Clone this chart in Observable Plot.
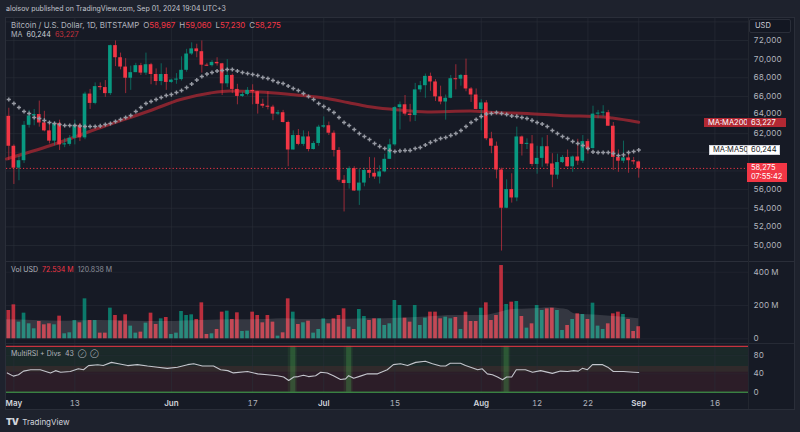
<!DOCTYPE html>
<html>
<head>
<meta charset="utf-8">
<script src="https://cdn.jsdelivr.net/npm/d3@7"></script>
<script src="https://cdn.jsdelivr.net/npm/@observablehq/plot@0.6"></script>
<style>
html,body{margin:0;padding:0;background:#1e222d;}
#root{position:relative;width:800px;height:432px;overflow:hidden;background:#1e222d;font-family:Inter,"Noto Sans",sans-serif;color:#b2b5be;}
.t{position:absolute;white-space:nowrap;line-height:10px;height:10px;}
.t span{margin-left:4px;}
.t span:first-child{margin-left:0;}
#frame{position:absolute;left:5px;top:17px;width:790px;height:393px;background:#161a25;box-sizing:border-box;border:1px solid #2a2e39;}
.sep{position:absolute;background:#2a2e39;}
.pane{position:absolute;left:0;}
.tag{position:absolute;font-size:7.5px;line-height:9px;height:9px;padding:0 0 0 4px;box-sizing:border-box;white-space:nowrap;}
</style>
</head>
<body>
<div id="root">
  <div id="frame"></div>
</div>
<script>
// ---------- data ----------
const DAY = 864e5;
const t0 = Date.UTC(2024, 3, 30); // first candle: Apr 30, 2024
const dayDate = d => new Date(t0 + d * DAY);

const opens = [63860,60650,58300,59100,62900,63900,64050,63150,62300,61200,63100,60800,60850,61500,62900,61550,66250,65250,67050,66950,66300,71450,70150,69150,67950,68550,69300,68500,69400,68350,67600,68350,67500,67750,67800,68800,70550,71100,70800,69350,69300,69650,69500,67350,68250,66750,66000,66200,66650,66500,65150,64950,64850,64100,64250,63200,60250,61800,60850,61650,60300,60950,62700,62850,62050,60200,57000,56650,58250,55850,56700,58050,57750,57350,57900,59250,60800,64800,65100,64100,63950,66700,67150,68150,67550,65950,65400,65800,67900,67850,68250,66800,66150,64600,65300,61450,60650,58100,54000,56000,55100,61650,60850,60900,58700,59350,60600,58750,57550,58900,59450,58450,59500,59050,61150,60400,64100,64200,64250,62800,59450,59050,59400,59100,58967];
const highs = [64730,60800,59600,63300,64500,64600,65500,64400,62950,63250,63450,61500,61800,63450,63100,66450,66750,67450,67450,67700,71500,71950,70650,70050,69250,69550,69550,70650,69550,68950,69500,69050,67850,68450,70250,71050,71750,71600,71950,69550,69850,70150,69550,69950,68400,67300,66450,66950,67250,66550,65700,66500,65050,64500,64500,63350,62300,62450,62300,62200,61150,62900,63800,63250,62300,60500,57500,58450,58450,58200,58300,59450,59400,58550,59800,61400,64900,65400,66100,65150,67400,67600,68400,68500,67800,67100,66150,68250,69400,68350,70000,66950,66800,65650,65550,62150,61100,58300,57050,57700,62700,61750,61450,61800,60650,61550,61800,59850,59800,59650,60250,59600,61400,61800,61400,64950,64500,65000,64500,63200,60250,61200,60000,59450,59060];
const lows = [59100,56550,56950,58800,62600,62850,62700,62200,60900,60700,60200,60500,60650,60800,61150,61350,64600,65100,66650,65900,66100,69200,68850,66300,66650,68550,68250,68250,67250,67150,67150,66650,67400,67300,67650,68600,70400,70150,68500,69200,69150,69250,66100,66950,66300,65100,65900,66050,65100,64100,64700,64550,63400,63950,63150,58450,60250,60700,60650,60050,60250,60650,62550,61800,59500,56800,53600,56050,55800,54300,56300,57200,57100,56600,57800,59250,60650,62400,63900,63250,63300,66400,65800,66550,65450,65100,63450,65750,66700,67100,66500,65350,64550,62300,61250,59850,57150,49400,53950,54550,54700,59600,60300,58450,57650,58400,58450,56200,57100,58800,58400,57850,58600,58800,59800,60350,63600,63800,62800,58050,57850,58800,57750,58650,57230];
const closes = [60650,58300,59100,62900,63900,64050,63150,62300,61200,63100,60800,60850,61500,62900,61550,66250,65250,67050,66950,66300,71450,70150,69150,67950,68550,69300,68500,69400,68350,67600,68350,67500,67750,67800,68800,70550,71100,70800,69350,69300,69650,69500,67350,68250,66750,66000,66200,66650,66500,65150,64950,64850,64100,64250,63200,60250,61800,60850,61650,60300,60950,62700,62850,62050,60200,57000,56650,58250,55850,56700,58050,57750,57350,57900,59250,60800,64800,65100,64100,63950,66700,67150,68150,67550,65950,65400,65800,67900,67850,68250,66800,66150,64600,65300,61450,60650,58100,54000,56000,55100,61650,60850,60900,58700,59350,60600,58750,57550,58900,59450,58450,59500,59050,61150,60400,64100,64200,64250,62800,59450,59050,59400,59100,58967,58275];
const volumes = [170,204,100,154,90,60,104,84,90,84,136,30,36,110,96,240,110,110,34,34,184,140,106,144,76,34,40,94,154,86,120,128,26,34,164,140,144,116,216,26,30,56,160,166,116,156,44,46,160,140,96,140,100,16,36,240,160,86,96,106,34,56,120,90,120,140,180,70,56,176,134,110,120,120,80,90,230,200,124,100,200,80,124,160,160,120,130,120,128,56,160,104,104,184,216,110,140,440,206,220,224,134,64,90,200,170,180,184,170,50,80,116,150,146,116,214,76,56,90,150,160,146,116,44,72.534];
const ma50 = [65670,65240,64810,64380,64170,63740,63630,63420,63200,63090,62990,62880,62880,62880,62830,62770,62770,62770,62830,62990,63090,63310,63520,63740,63950,64380,64810,65240,65450,65670,65880,66100,66200,66420,66630,66960,67330,67760,68140,68400,68570,68730,68780,68890,68890,68730,68570,68460,68350,68240,68030,67920,67710,67490,67390,67120,66850,66630,66310,65990,65670,65240,64920,64600,64270,63740,63200,62880,62450,62020,61700,61380,60950,60630,60410,60200,60090,60150,60200,60200,60410,60520,60790,61060,61270,61480,61590,61810,62020,62340,62770,63200,63520,63850,64110,64170,64270,64170,64060,63900,63850,63740,63630,63420,63200,63040,62770,62340,62020,61700,61480,61160,60950,60730,60410,60040,59980,59980,59980,59880,59660,59720,59980,60090,60244];

const ma200Day = [-0.45,8.2,18.1,27.9,33.8,39.7,43.6,49.5,55.5,61.4,66.7,70.6,75.7,82.4,90.9,95.4,102.1,108.6,117.1,118.8,124];
const ma200Val = [59285,60730,62665,64490,65670,66370,66580,66470,66200,65880,65350,64920,64600,64330,64430,64270,64170,63950,63790,63680,63227];

const volMaDay = [-0.45,4.9,11.5,18,24.6,31.2,37.7,44.3,50.9,54.1,57.4,64,70.6,77.1,83.7,87,93.5,96.8,98.8,103.3,106.6,108.6,110,111.3,116.5,123,124];
const volMaVal = [114,110,106,110,106,104,110,114,116,120,116,116,120,124,134,140,140,160,174,180,186,180,174,150,140,124,120.8];

const rsiDay = [-0.3,0.9,1.9,2.9,4.3,6.2,8.2,9.2,10.2,12.1,13.7,14.7,15.7,17.5,18.6,20.2,21.6,23.4,25.3,27.3,29.3,31.2,33.2,35.2,36.4,38.1,40.3,41.7,43.1,44.2,47,49,50.9,52.9,54.1,55.1,56.1,57,58,59,60.4,61.4,62.7,63.9,65.3,66.3,66.9,67.9,69.2,70.6,72.6,74.5,75.7,77.1,78.5,80.1,82,83.4,85,86,86.9,88.9,89.9,90.9,92.3,93.2,94.2,95.2,96.2,97.2,98,99,99.9,101.7,103.1,104.7,107,108.6,110,111.2,112.1,112.9,113.9,114.9,116.9,117.9,119,121,123,124];
const rsiVal = [42,35,38,46,49,49,42,47,43.6,45,51,49,58,59.7,58,65,62,58,60,57,54.5,52,54.5,60,62,57,57,49,47,42,45,40,38,36,33,25.5,33,34,37,34,36,43.6,42,36,27.7,29,36,30.5,35,40,40,49,60,62,58,65,67.5,62,57,57,63,63,58,54.5,49,51,40,38,33,27,33,33,49,49,43.6,47,41,46,45,47,46,52,49,60,60,54.5,45,45,43.6,43];
const divDays = [56, 67, 98];

// 58,000 and 60,000 are hidden behind the value tags in the reference
const priceTicks = [50000,52000,54000,56000,62000,66000,68000,70000,72000];
const priceTickTight = [64000]; // sits right above the MA200 tag
const priceGrid = [50000,52000,54000,56000,58000,60000,62000,64000,66000,68000,70000,72000,74000];
const volTicks = [0, 200, 400];
const rsiTicks = [0, 40, 80];
const monthTicks = ["2024-05-01","2024-06-01","2024-07-01","2024-08-01","2024-09-01"];
const monthLabels = ["May","Jun","Jul","Aug","Sep"];
const dayTicks = ["2024-05-13","2024-06-17","2024-07-15","2024-08-12","2024-08-22","2024-09-16"];
const dayLabels = ["13","17","15","12","22","16"];

// ---------- derived tables ----------
const up = "#089981", down = "#f23645";
const candles = opens.map((o, i) => ({
  date: dayDate(i), o, h: highs[i], l: lows[i], c: closes[i], v: volumes[i], ma: ma50[i],
  col: closes[i] >= o ? up : down
}));
const ma200 = ma200Day.map((d, i) => ({date: dayDate(d), v: ma200Val[i]}));
const volMa = volMaDay.map((d, i) => ({date: dayDate(d), v: volMaVal[i]}));
const rsi = rsiDay.map((d, i) => ({date: dayDate(d), v: rsiVal[i]}));
const monthDates = monthTicks.map(s => new Date(s + "T00:00Z"));
const dayDates = dayTicks.map(s => new Date(s + "T00:00Z"));
const gridDates = [...monthDates, ...dayDates];
const labelMap = new Map([...monthDates.map((d, i) => [+d, monthLabels[i]]), ...dayDates.map((d, i) => [+d, dayLabels[i]])]);

const xOpt = {type: "utc", domain: [dayDate(-0.453), dayDate(145.61)], range: [6, 748], axis: null};
const half = d => new Date(+d.date - 0.36 * DAY), half2 = d => new Date(+d.date + 0.36 * DAY);
const baseStyle = {background: "transparent", color: "#b2b5be", fontFamily: "Inter, 'Noto Sans', sans-serif", fontSize: "8px", overflow: "visible"};
const gridStroke = {stroke: "#2a2e39", strokeOpacity: 0.6, strokeWidth: 1};
const common = {width: 800, marginLeft: 6, marginRight: 52, marginTop: 0, color: {type: "identity"}, style: baseStyle};
const axisTxt = {anchor: "right", tickSize: 0, tickPadding: 5, fill: "#b2b5be", fontSize: 8, label: null};

// ---------- price pane ----------
const pricePlot = Plot.plot({
  ...common, height: 245, marginBottom: 0,
  x: xOpt,
  y: {domain: [50000, 72000], range: [228, 23], axis: null},
  marks: [
    Plot.gridX(gridDates, gridStroke),
    Plot.gridY(priceGrid, gridStroke),
    Plot.ruleY([closes[closes.length - 1]], {stroke: down, strokeDasharray: "1.2,2.2", strokeWidth: 1}),
    Plot.line(ma200, {x: "date", y: "v", stroke: "#b22833", strokeOpacity: 0.72, strokeWidth: 3, curve: "monotone-x"}),
    Plot.ruleX(candles, {x: "date", y1: "l", y2: "h", stroke: "col", strokeOpacity: 0.6, strokeWidth: 1}),
    Plot.rect(candles, {x1: half, x2: half2, y1: "o",
      y2: d => Math.abs(d.c - d.o) < 110 ? d.o + (d.c >= d.o ? 110 : -110) : d.c, fill: "col"}),
    Plot.dot(candles, {x: "date", y: "ma", symbol: "cross", r: 1.75, fill: "#979aa3", stroke: null}),
    Plot.axisY(priceTicks, {...axisTxt, tickFormat: d3.format(",")}),
    Plot.axisY(priceTickTight, {...axisTxt, tickFormat: d3.format(","), dy: -2})
  ]
});

// ---------- volume pane ----------
const volPlot = Plot.plot({
  ...common, height: 82, marginBottom: 0,
  x: xOpt,
  y: {domain: [0, 400], range: [76.3, 9.7], axis: null},
  marks: [
    Plot.gridX(gridDates, gridStroke),
    Plot.gridY(volTicks, {...gridStroke, strokeOpacity: 0.45}),
    Plot.rect(candles, {x1: half, x2: half2, y1: 0, y2: "v", fill: "col", fillOpacity: 0.75}),
    Plot.areaY(volMa, {x: "date", y: "v", fill: "#ffffff", fillOpacity: 0.13, curve: "monotone-x"}),
    Plot.axisY(volTicks, {...axisTxt, tickFormat: d => d === 0 ? "0" : d + " M"})
  ]
});

// ---------- RSI pane + time axis ----------
const rsiPlot = Plot.plot({
  ...common, height: 66, marginBottom: 18,
  x: xOpt,
  y: {domain: [0, 100], range: [47.7, 1.8], axis: null},
  marks: [
    Plot.rect([0], {y1: 43.6, y2: 100, fill: "#4caf50", fillOpacity: 0.1}),
    Plot.rect([0], {y1: 0, y2: 56, fill: "#f23645", fillOpacity: 0.1}),
    Plot.gridX(gridDates, gridStroke),
    Plot.gridY([40, 80], {...gridStroke, strokeOpacity: 0.35}),
    Plot.rect(divDays, {x1: d => dayDate(d - 1), x2: d => dayDate(d + 0.8), y1: 0, y2: 100, fill: "#4caf50", fillOpacity: 0.1}),
    Plot.rect(divDays, {x1: d => dayDate(d - 0.5), x2: d => dayDate(d + 0.5), y1: 0, y2: 100, fill: "#4caf50", fillOpacity: 0.28}),
    Plot.ruleY([100], {stroke: "#f23645", strokeWidth: 1}),
    Plot.ruleY([0], {stroke: "#4caf50", strokeWidth: 1}),
    Plot.line(rsi, {x: "date", y: "v", stroke: "#c3c5cc", strokeWidth: 1.1}),
    Plot.axisY(rsiTicks, axisTxt),
    Plot.axisX(monthDates, {anchor: "bottom", tickSize: 0, tickPadding: 8, tickFormat: d => labelMap.get(+d), fill: "#d1d4dc", fontSize: 8, fontWeight: 600, label: null}),
    Plot.axisX(dayDates, {anchor: "bottom", tickSize: 0, tickPadding: 8, tickFormat: d => labelMap.get(+d), fill: "#b2b5be", fontSize: 8, label: null})
  ]
});

// ---------- layout ----------
const root = document.getElementById("root");
function place(el, top) { const w = document.createElement("div"); w.className = "pane"; w.style.top = top + "px"; w.appendChild(el); root.appendChild(w); }
place(pricePlot, 17);
place(volPlot, 262);
place(rsiPlot, 344);

function sep(left, top, w, h, color) { const d = document.createElement("div"); d.className = "sep"; Object.assign(d.style, {left: left + "px", top: top + "px", width: w + "px", height: h + "px"}); if (color) d.style.background = color; root.appendChild(d); }
sep(6, 261, 788, 1);
sep(6, 343, 788, 1, "#262a35");
sep(748, 18, 1, 391, "#22262f");

function text(html, left, cy, size, color, weight) {
  const d = document.createElement("div"); d.className = "t";
  Object.assign(d.style, {left: left + "px", top: (cy - 5) + "px", fontSize: size + "px", color});
  if (weight) d.style.fontWeight = weight;
  d.innerHTML = html; root.appendChild(d); return d;
}
const R = "#f23645", G = "#b2b5be", W = "#d1d4dc";
text("aloisov published on TradingView.com, Sep 01, 2024 19:04 UTC+3", 6, 9, 7, "#c3c6ce");
text(`<span style="color:${G}">Bitcoin / U.S. Dollar, 1D, BITSTAMP</span><span>O<b style="font-weight:400;color:${R}">58,967</b></span><span>H<b style="font-weight:400;color:${R}">59,060</b></span><span>L<b style="font-weight:400;color:${R}">57,230</b></span><span>C<b style="font-weight:400;color:${R}">58,275</b></span>`, 11, 25, 7.9, G);
text(`<span>MA</span><span style="color:${W}">60,244</span><span style="color:#c7313d">63,227</span>`, 11, 34.5, 7.2, G);
text(`<span>Vol USD</span><span style="color:${R}">72.534 M</span><span style="color:#8c8f99">120.838 M</span>`, 11, 270, 7, G);
text(`<span>MultiRSI + Divs</span><span>43</span><span style="font-size:6px">⊘</span><span style="font-size:6px">⊘</span>`, 11, 353.5, 7, G);

// USD box
const usd = document.createElement("div");
Object.assign(usd.style, {position: "absolute", left: "749px", top: "19px", width: "42px", height: "14px", boxSizing: "border-box", border: "1px solid #2a2e39", borderRadius: "2px", background: "#131722", color: "#d1d4dc", fontSize: "7.5px", lineHeight: "12px", paddingLeft: "5px"});
usd.textContent = "USD"; root.appendChild(usd);

// axis tags (positions from the price scale)
const ys = v => 17 + pricePlot.scale("y").apply(v);
function tag(txt, left, width, cy, h, bg, fg, border) {
  const d = document.createElement("div"); d.className = "tag";
  Object.assign(d.style, {left: left + "px", width: width + "px", top: (cy - h / 2) + "px", height: h + "px", lineHeight: h + "px", background: bg, color: fg});
  if (border) d.style.border = border, d.style.lineHeight = (h - 2) + "px", d.style.paddingLeft = "3px";
  d.innerHTML = txt; root.appendChild(d);
}
const ma200Last = ma200Val[ma200Val.length - 1], ma50Last = ma50[ma50.length - 1], last = closes[closes.length - 1];
tag("MA:MA200", 704, 43, ys(ma200Last) + 0.5, 9, "#b22833", "#ffffff");
tag(d3.format(",")(ma200Last), 747, 39, ys(ma200Last) + 0.5, 9, "#b22833", "#ffffff");
tag("MA:MA50", 709, 38, ys(ma50Last), 10, "#ffffff", "#131722", "1px solid #d1d4dc");
tag(d3.format(",")(ma50Last), 747, 33, ys(ma50Last), 10, "#ffffff", "#131722", "1px solid #d1d4dc");
const pt = document.createElement("div");
Object.assign(pt.style, {position: "absolute", left: "747px", top: (ys(last) - 5) + "px", width: "40px", height: "19px", background: "#f23645", color: "#fff", fontSize: "7.5px", lineHeight: "9px", paddingLeft: "4px", boxSizing: "border-box", paddingTop: "0.5px"});
pt.innerHTML = d3.format(",")(last) + "<br>07:55:42"; root.appendChild(pt);

// footer logo
text(`<span style="font-weight:900;letter-spacing:-0.5px;font-size:9px;color:#d1d4dc">TV</span><span style="color:#d1d4dc">TradingView</span>`, 6, 421.5, 8, W);
</script>
</body>
</html>
